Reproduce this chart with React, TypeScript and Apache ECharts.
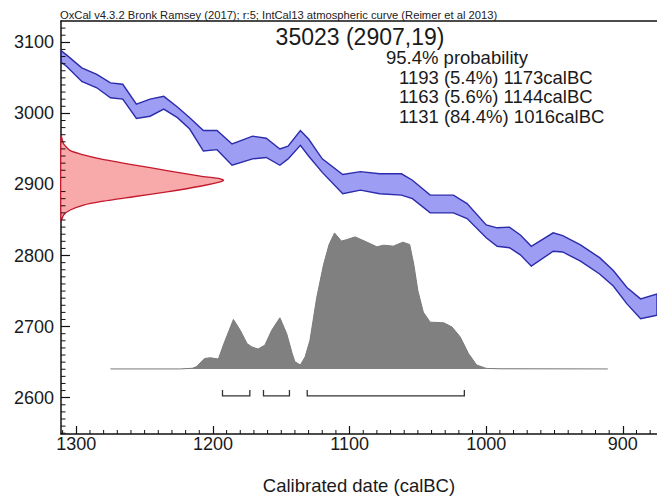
import React, { useEffect, useRef } from "react";
import * as echarts from "echarts";

const FONT = "'Liberation Sans', Arial, Helvetica, sans-serif";

// Calibration curve (IntCal13) band: year (calBC), upper and lower BP edge
const curveYears = [1311, 1307, 1296, 1285, 1275, 1266, 1256, 1246, 1236, 1226, 1217, 1207, 1197, 1186, 1171, 1161, 1151, 1145, 1136, 1130, 1120, 1105, 1092, 1078, 1062, 1054, 1041, 1024, 1014, 1000, 992, 983, 975, 967, 951, 944, 931, 917, 907, 897, 887, 875];
const curveUpper = [3088, 3082, 3064, 3055, 3043, 3041, 3013, 3020, 3024, 3009, 2994, 2976, 2976, 2957, 2968, 2965, 2950, 2954, 2976, 2964, 2936, 2914, 2918, 2915, 2915, 2906, 2885, 2885, 2873, 2843, 2839, 2840, 2829, 2813, 2832, 2828, 2815, 2797, 2779, 2755, 2739, 2746];
const curveLower = [3072, 3066, 3045, 3036, 3022, 3020, 2993, 2996, 3006, 2994, 2978, 2947, 2949, 2927, 2936, 2938, 2927, 2936, 2955, 2940, 2917, 2887, 2892, 2887, 2885, 2880, 2860, 2860, 2852, 2825, 2813, 2811, 2801, 2785, 2806, 2805, 2792, 2774, 2757, 2732, 2711, 2716];

// Radiocarbon measurement 2907 +/- 19 BP (relative density)
const measBP = [2968.5, 2957, 2947.6, 2941.6, 2936, 2927.6, 2919.6, 2911.8, 2908, 2906, 2903.6, 2897.5, 2889.7, 2882.7, 2875.8, 2871, 2864.1, 2857.1, 2848.7];
const measDensity = [0, 0.016, 0.057, 0.139, 0.242, 0.445, 0.652, 0.857, 0.98, 1.0, 0.98, 0.857, 0.652, 0.445, 0.242, 0.139, 0.057, 0.016, 0];

// Calibrated probability distribution (relative)
const probYears = [1275, 1224, 1215, 1212, 1206, 1202, 1196, 1192, 1185, 1180, 1175, 1171.5, 1167, 1162, 1157, 1151, 1146, 1142, 1140, 1136, 1132.5, 1129, 1124, 1119, 1115, 1111, 1106, 1102, 1096, 1089, 1080, 1075, 1068, 1061, 1056, 1053, 1050, 1046, 1041, 1031, 1025, 1019, 1013, 1007, 1000, 990, 911];
const probValues = [0, 0, 0.005, 0.017, 0.077, 0.082, 0.073, 0.186, 0.364, 0.284, 0.186, 0.162, 0.146, 0.175, 0.284, 0.376, 0.259, 0.114, 0.053, 0.029, 0.09, 0.211, 0.527, 0.769, 0.915, 1.0, 0.94, 0.951, 0.971, 0.94, 0.898, 0.91, 0.903, 0.932, 0.915, 0.769, 0.575, 0.417, 0.344, 0.339, 0.308, 0.235, 0.114, 0.029, 0.004, 0.001, 0];

// 95.4% ranges
const rangeFrom = [1193, 1163, 1131];
const rangeTo = [1173, 1144, 1016];
const rangePct = ["5.4%", "5.6%", "84.4%"];

const xMajorTicks = [900, 1000, 1100, 1200, 1300];
const xMinorTicks: number[] = [880, 890, 910, 920, 930, 940, 950, 960, 970, 980, 990, 1010, 1020, 1030, 1040, 1050, 1060, 1070, 1080, 1090, 1110, 1120, 1130, 1140, 1150, 1160, 1170, 1180, 1190, 1210, 1220, 1230, 1240, 1250, 1260, 1270, 1280, 1290, 1310];
const yMajorTicks = [2600, 2700, 2800, 2900, 3000, 3100];
const yMinorTicks: number[] = [2550, 2560, 2570, 2580, 2590, 2610, 2620, 2630, 2640, 2650, 2660, 2670, 2680, 2690, 2710, 2720, 2730, 2740, 2750, 2760, 2770, 2780, 2790, 2810, 2820, 2830, 2840, 2850, 2860, 2870, 2880, 2890, 2910, 2920, 2930, 2940, 2950, 2960, 2970, 2980, 2990, 3010, 3020, 3030, 3040, 3050, 3060, 3070, 3080, 3090, 3110, 3120];

const headerText = "OxCal v4.3.2 Bronk Ramsey (2017); r:5; IntCal13 atmospheric curve (Reimer et al 2013)";
const titleText = "35023 (2907,19)";
const probText = "95.4% probability";

const X_MIN = 875;
const X_MAX = 1311.2;
const Y_MIN = 2548.9;
const Y_MAX = 3130;

export default function App() {
  const ref = useRef<HTMLDivElement>(null);
  useEffect(() => {
    if (!ref.current) return;
    const chart = echarts.init(ref.current, undefined, { renderer: "svg" });
    const axisColor = "#111";
    const textColor = "#1a1a1a";
    const rangeLines = rangeFrom.map((f, i) => `${f} (${rangePct[i]}) ${rangeTo[i]}calBC`);
    const plain = (v: number) => String(Math.round(v));

    const option: any = {
      animation: false,
      backgroundColor: "#ffffff",
      grid: { left: 61, right: 0, top: 21, bottom: 62, containLabel: false },
      xAxis: [
        {
          type: "value", min: X_MIN, max: X_MAX, inverse: true, position: "bottom",
          axisLine: { show: true, onZero: false, lineStyle: { color: axisColor, width: 1.5 } },
          axisTick: { show: true, inside: true, length: 8, customValues: xMajorTicks, lineStyle: { color: axisColor, width: 1.2 } },
          axisLabel: { show: true, customValues: xMajorTicks, formatter: plain, fontSize: 18, fontFamily: FONT, color: textColor, margin: 1 },
          splitLine: { show: false },
          name: "Calibrated date (calBC)", nameLocation: "middle", nameGap: 42,
          nameTextStyle: { fontSize: 18.5, fontFamily: FONT, color: textColor },
        },
        {
          type: "value", min: 0, max: 3.667, position: "top",
          axisLine: { show: true, onZero: false, lineStyle: { color: axisColor, width: 1.5 } },
          axisTick: { show: false }, axisLabel: { show: false }, splitLine: { show: false },
        },
      ],
      yAxis: [
        {
          type: "value", min: Y_MIN, max: Y_MAX, position: "left",
          axisLine: { show: true, onZero: false, lineStyle: { color: axisColor, width: 1.5 } },
          axisTick: { show: true, inside: true, length: 9, customValues: yMajorTicks, lineStyle: { color: axisColor, width: 1.2 } },
          axisLabel: { show: true, customValues: yMajorTicks, formatter: plain, fontSize: 18, fontFamily: FONT, color: textColor, margin: 7 },
          splitLine: { show: false },
        },
        {
          type: "value", min: -0.4785, max: 2.5586, position: "right", show: false,
          axisLine: { onZero: false }, splitLine: { show: false },
        },
      ],
      series: [
        {
          type: "line", name: "Calibrated distribution", xAxisIndex: 0, yAxisIndex: 1,
          data: probYears.map((yr, i) => [yr, probValues[i]]),
          symbol: "none", smooth: false,
          lineStyle: { color: "#7a7a7a", width: 1 },
          areaStyle: { color: "#808080", opacity: 1 },
          z: 2,
        },
        {
          type: "custom", name: "Ranges", xAxisIndex: 0, yAxisIndex: 1,
          data: rangeFrom.map((f, i) => [f, rangeTo[i]]),
          renderItem: (params: any, api: any) => {
            const a = api.coord([api.value(0), 0]);
            const b = api.coord([api.value(1), 0]);
            const y = a[1] + 27;
            return {
              type: "polyline",
              shape: { points: [[a[0], y - 6], [a[0], y], [b[0], y], [b[0], y - 6]] },
              style: { stroke: "#333", lineWidth: 1.3, fill: null },
            };
          },
          z: 3,
        },
        {
          type: "custom", name: "IntCal13", xAxisIndex: 0, yAxisIndex: 0,
          data: curveYears.map((yr, i) => [yr, curveUpper[i], curveLower[i]]),
          renderItem: (params: any, api: any) => {
            if (params.dataIndex !== 0) return null;
            const up = curveYears.map((yr, i) => api.coord([yr, curveUpper[i]]));
            const lo = curveYears.map((yr, i) => api.coord([yr, curveLower[i]])).reverse();
            return {
              type: "polygon",
              shape: { points: up.concat(lo) },
              style: { fill: "#9d9df3", stroke: "#2b2bab", lineWidth: 1.4 },
            };
          },
          z: 4,
        },
        {
          type: "custom", name: "Measurement", xAxisIndex: 1, yAxisIndex: 0,
          data: measBP.map((bp, i) => [measDensity[i], bp]),
          renderItem: (params: any, api: any) => {
            if (params.dataIndex !== 0) return null;
            const pts = measBP.map((bp, i) => api.coord([measDensity[i], bp]));
            return {
              type: "polygon",
              shape: { points: pts, smooth: 0.2 },
              style: { fill: "#f8aaaa", stroke: "#c4182c", lineWidth: 1.3 },
            };
          },
          z: 5,
        },
        {
          type: "custom", name: "xMinorTicks", xAxisIndex: 0, yAxisIndex: 0, silent: true,
          data: xMinorTicks.map((v) => [v, Y_MIN]),
          renderItem: (params: any, api: any) => {
            const p = api.coord([api.value(0), Y_MIN]);
            return { type: "line", shape: { x1: p[0], y1: p[1], x2: p[0], y2: p[1] - 4 }, style: { stroke: axisColor, lineWidth: 1 } };
          },
          z: 6,
        },
        {
          type: "custom", name: "yMinorTicks", xAxisIndex: 0, yAxisIndex: 0, silent: true,
          data: yMinorTicks.map((v) => [X_MAX, v]),
          renderItem: (params: any, api: any) => {
            const p = api.coord([X_MAX, api.value(1)]);
            return { type: "line", shape: { x1: p[0], y1: p[1], x2: p[0] + 4.5, y2: p[1] }, style: { stroke: axisColor, lineWidth: 1 } };
          },
          z: 6,
        },
      ],
      graphic: [
        { type: "text", x: 60, y: 20.5, style: { text: headerText, fontSize: 11.2, fontFamily: FONT, fill: "#222", textAlign: "left", textVerticalAlign: "bottom" } },
        { type: "text", x: 360, y: 37, style: { text: titleText, fontSize: 23, fontFamily: FONT, fill: textColor, textAlign: "center", textVerticalAlign: "middle" } },
        { type: "text", x: 386, y: 57, style: { text: probText, fontSize: 18.5, fontFamily: FONT, fill: textColor, textAlign: "left", textVerticalAlign: "middle" } },
        ...rangeLines.map((t, i) => ({
          type: "text", x: 399, y: 77 + i * 19.5,
          style: { text: t, fontSize: 18.5, fontFamily: FONT, fill: textColor, textAlign: "left", textVerticalAlign: "middle" },
        })),
      ],
    };
    chart.setOption(option);
    return () => chart.dispose();
  }, []);
  return <div ref={ref} style={{ position: "fixed", left: 0, top: 0, width: 657, height: 500, background: "#fff" }} />;
}
